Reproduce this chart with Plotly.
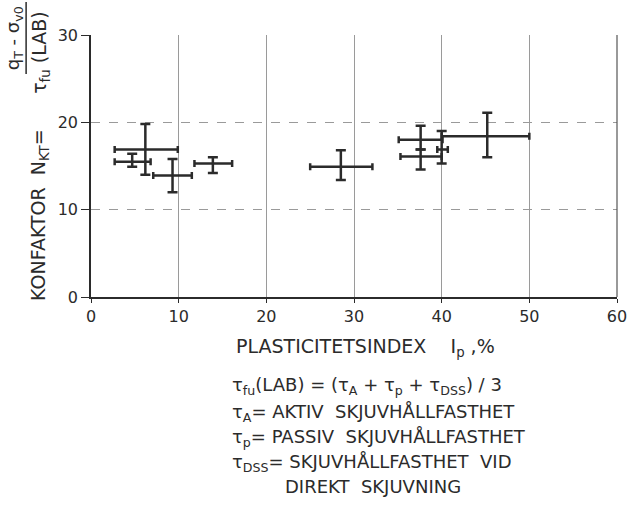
import plotly.graph_objects as go

# Data (plasticity index Ip %, cone factor N_KT)
ip = [6.2, 4.7, 9.3, 13.9, 28.5, 37.6, 37.6, 40.0, 45.2]
ip_low = [2.7, 2.7, 7.1, 11.8, 25.0, 35.1, 35.3, 39.5, 40.0]
ip_high = [9.9, 6.8, 11.5, 16.1, 32.1, 40.1, 40.0, 40.7, 50.0]
nkt = [16.9, 15.5, 13.9, 15.3, 14.9, 18.0, 16.1, 16.9, 18.4]
nkt_low = [14.0, 14.9, 12.0, 14.2, 13.4, 16.9, 14.6, 15.3, 16.0]
nkt_high = [19.8, 16.4, 15.8, 16.0, 16.8, 19.6, 16.9, 19.0, 21.1]

x_ticks = [0, 10, 20, 30, 40, 50, 60]
y_ticks = [0, 10, 20, 30]

INK = "#2b2b2b"
GRID = "#9a9a9a"
FONT = "DejaVu Sans"
NB = "\u00a0"

W, H = 639, 514
ML, MR, MT, MB = 91, 13, 35, 217
PW = W - ML - MR
PH = H - MT - MB


def px(xp):
    return (xp - ML) / PW


def py(yp):
    return (H - MB - yp) / PH


fig = go.Figure()
fig.add_trace(go.Scatter(
    x=ip, y=nkt, mode="markers",
    marker=dict(size=1, color=INK, opacity=0),
    error_x=dict(type="data", symmetric=False,
                 array=[h - c for h, c in zip(ip_high, ip)],
                 arrayminus=[c - l for l, c in zip(ip_low, ip)],
                 color=INK, thickness=2.5, width=3.5),
    error_y=dict(type="data", symmetric=False,
                 array=[h - c for h, c in zip(nkt_high, nkt)],
                 arrayminus=[c - l for l, c in zip(nkt_low, nkt)],
                 color=INK, thickness=2.5, width=5),
    showlegend=False, hoverinfo="skip",
))

fig.update_xaxes(
    range=[0, 60], tickvals=x_ticks, ticktext=[str(v) for v in x_ticks],
    showline=True, linecolor=INK, linewidth=1.5,
    showgrid=True, gridcolor=GRID, gridwidth=1,
    ticks="outside", ticklen=4, tickcolor=INK,
    zeroline=False, tickfont=dict(family=FONT, size=16, color=INK),
)
fig.update_yaxes(
    range=[0, 30], tickvals=y_ticks, ticktext=[str(v) for v in y_ticks],
    showline=True, linecolor=INK, linewidth=1.5,
    showgrid=True, gridcolor=GRID, gridwidth=1, griddash="dash",
    ticks="outside", ticklen=8, tickcolor=INK,
    zeroline=False, tickfont=dict(family=FONT, size=16, color=INK),
)

annots = []
# y-axis title (rotated, with fraction)
annots.append(dict(text=f"KONFAKTOR{NB}{NB}N<sub>KT</sub>=", textangle=-90,
                   x=px(38), y=py(303), xanchor="center", yanchor="bottom", size=19))
annots.append(dict(text=f"τ<sub>fu</sub>{NB}(LAB)", textangle=-90,
                   x=px(40), y=py(10), xanchor="center", yanchor="top", size=19))
annots.append(dict(text=f"q<sub>T</sub>{NB}-{NB}σ<sub>v0</sub>", textangle=-90,
                   x=px(13), y=py(38), xanchor="center", yanchor="middle", size=18))
# x-axis title
annots.append(dict(text=f"PLASTICITETSINDEX{NB}{NB}{NB}{NB}I<sub>p</sub>{NB},%",
                   x=px(236), y=py(347), xanchor="left", yanchor="middle", size=19))
# legend text block
lines = [
    (f"τ<sub>fu</sub>(LAB) = (τ<sub>A</sub>{NB}+{NB}τ<sub>p</sub>{NB}+{NB}τ<sub>DSS</sub>) / 3", 232, 386),
    (f"τ<sub>A</sub>= AKTIV{NB}{NB}SKJUVHÅLLFASTHET", 232, 413),
    (f"τ<sub>p</sub>= PASSIV{NB}{NB}SKJUVHÅLLFASTHET", 232, 438),
    (f"τ<sub>DSS</sub>= SKJUVHÅLLFASTHET{NB}{NB}VID", 232, 463),
    (f"DIREKT{NB}{NB}SKJUVNING", 286, 486),
]
for t, xp, yp in lines:
    annots.append(dict(text=t, x=px(xp), y=py(yp), xanchor="left", yanchor="middle", size=18))

for a in annots:
    s = a.pop("size")
    a.update(xref="paper", yref="paper", showarrow=False,
             font=dict(family=FONT, size=s, color=INK))

fig.update_layout(
    width=W, height=H,
    margin=dict(l=ML, r=MR, t=MT, b=MB),
    paper_bgcolor="white", plot_bgcolor="white",
    annotations=annots,
    shapes=[
        dict(type="line", xref="paper", yref="paper",
             x0=px(25), x1=px(25), y0=py(74), y1=py(2),
             line=dict(color=INK, width=1.5)),
        dict(type="line", xref="paper", yref="paper",
             x0=1, x1=1, y0=0, y1=1,
             line=dict(color="#555555", width=1.2)),
    ],
)

fig.write_html("out.html")
